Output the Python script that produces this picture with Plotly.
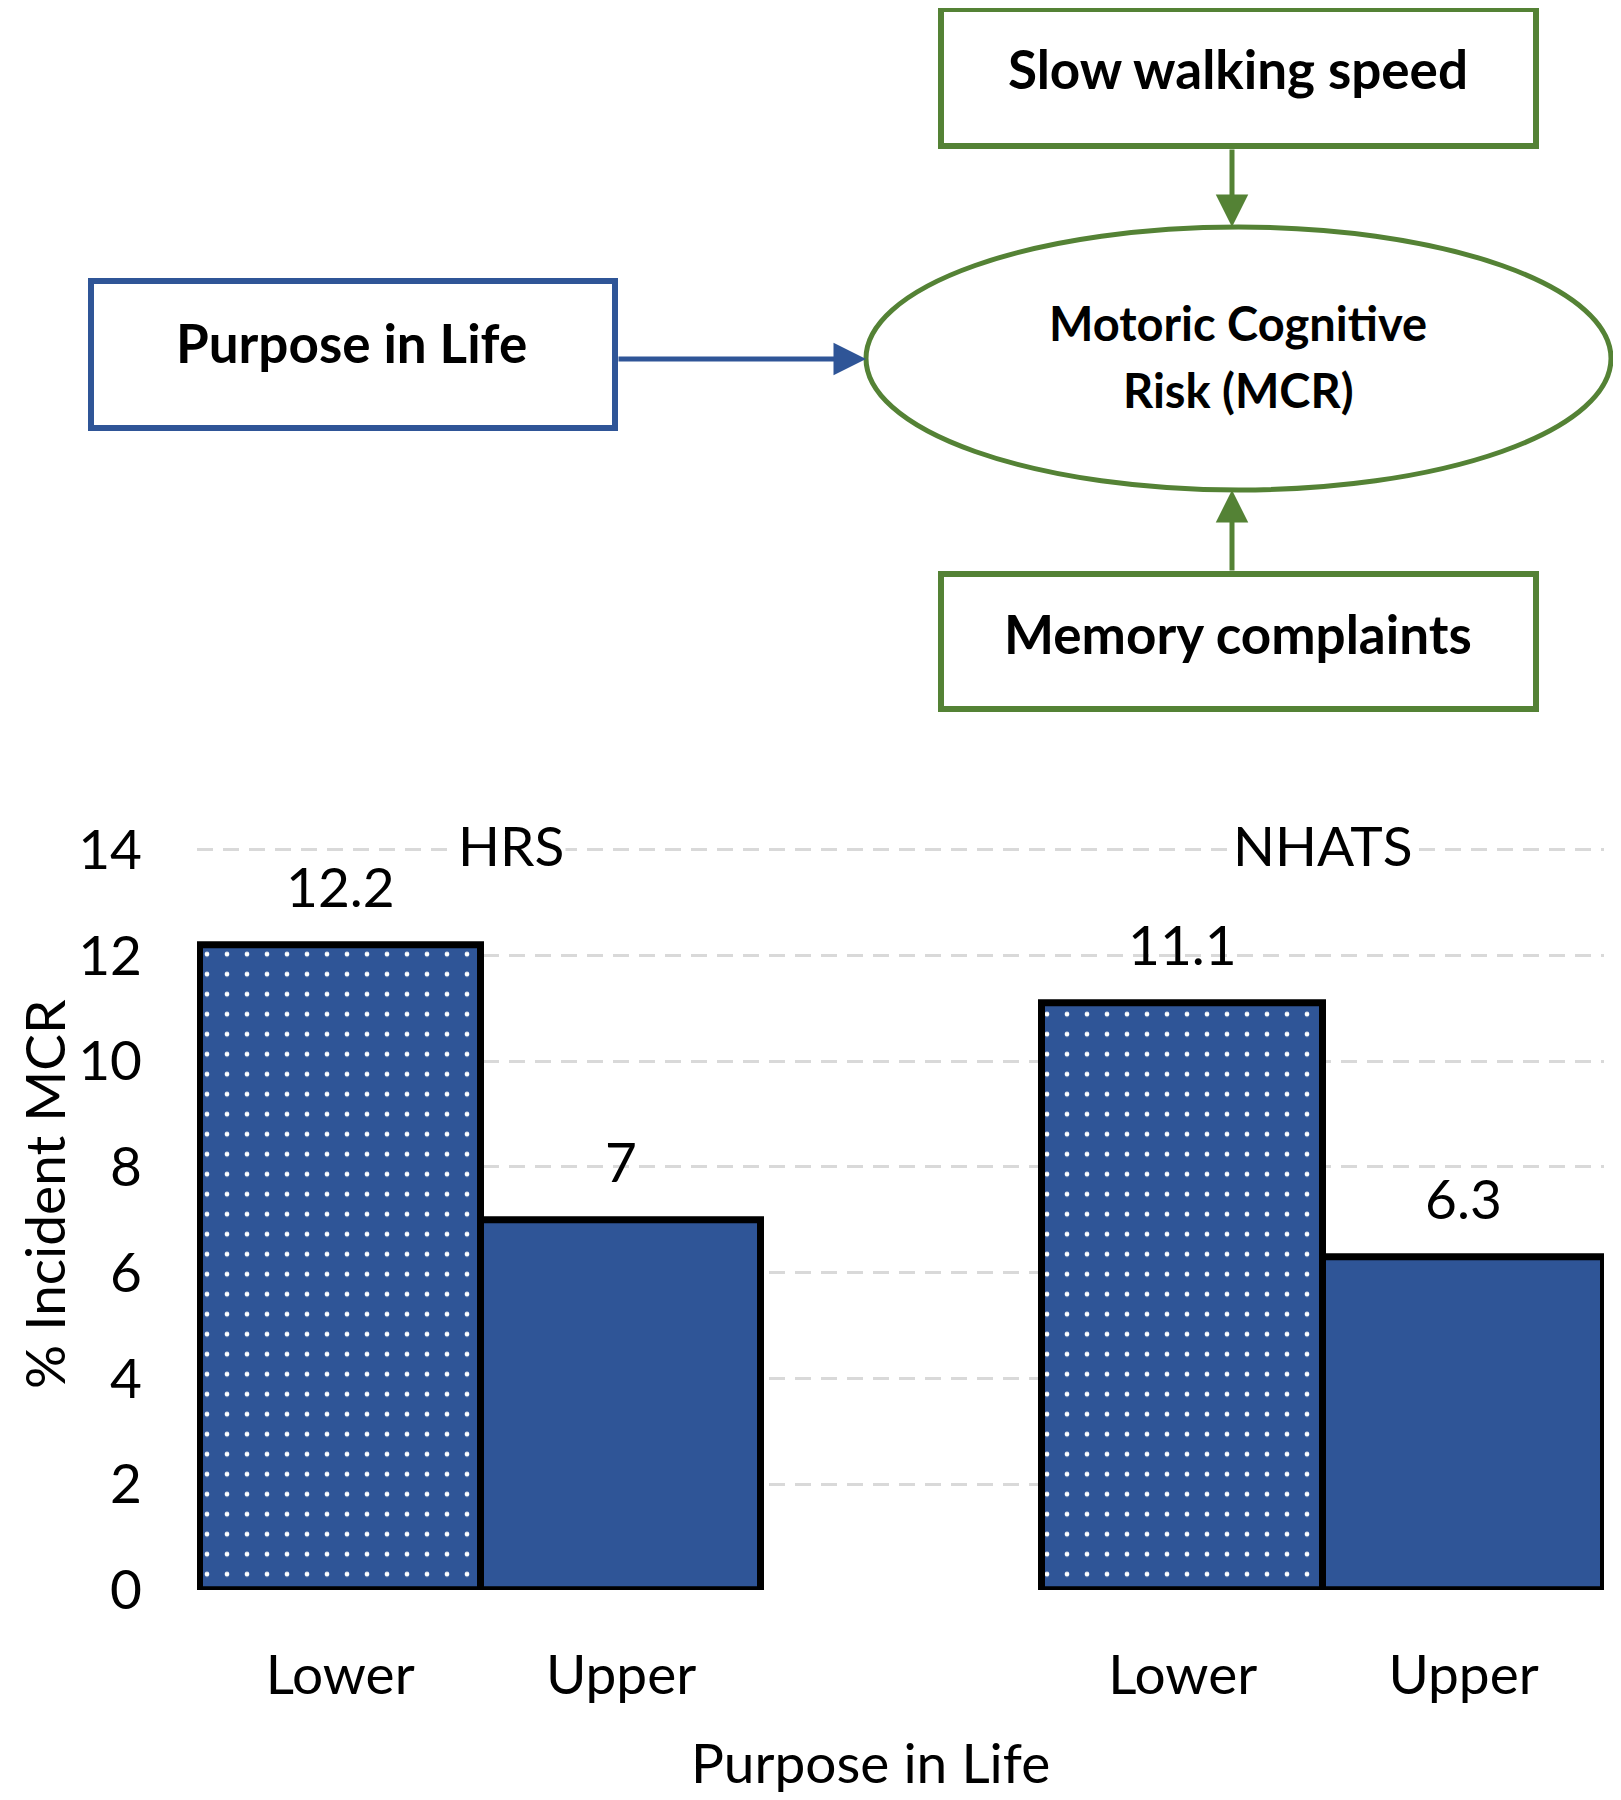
import plotly.graph_objects as go

# ---------------- data ----------------
groups = ["HRS", "NHATS"]
levels = ["Lower", "Upper"]
hrs_values = [12.2, 7]
nhats_values = [11.1, 6.3]
y_ticks = [0, 2, 4, 6, 8, 10, 12, 14]
y_title = "% Incident MCR"
x_title = "Purpose in Life"

diagram_exposure = "Purpose in Life"
diagram_outcome = ["Motoric Cognitive", "Risk (MCR)"]
diagram_top = "Slow walking speed"
diagram_bottom = "Memory complaints"

# ---------------- style ----------------
W, H = 1621, 1800
OFF = 8  # page body margin
BLUE = "#2F5597"
GREEN = "#548235"
GRID = "#D9D9D9"
FONT = "Lato"
TXT = 55
BOLD_TXT = 53

def px(x):
    return (x - OFF) / W

def py(y):
    return 1 - (y - OFF) / H

values_by_group = [hrs_values, nhats_values]

fig = go.Figure()

for li, lvl in enumerate(levels):
    xs = [gi * 3 + li for gi in range(len(groups))]
    ys = [values_by_group[gi][li] for gi in range(len(groups))]
    marker = dict(color=BLUE, line=dict(color="black", width=7))
    if li == 0:
        marker["pattern"] = dict(shape=".", fgcolor="white", bgcolor=BLUE,
                                 size=20, solidity=0.045, fgopacity=1,
                                 fillmode="replace")
    fig.add_trace(go.Bar(x=xs, y=ys, width=1, name=lvl, marker=marker,
                         showlegend=False, hoverinfo="skip"))

tickvals, ticktext = [], []
for gi in range(len(groups)):
    for li, lvl in enumerate(levels):
        tickvals.append(gi * 3 + li)
        ticktext.append(lvl)

def ann(**kw):
    d = dict(showarrow=False, xanchor="center", yanchor="middle")
    d.update(kw)
    return d

annotations = []
for gi in range(len(groups)):
    for li in range(len(levels)):
        v = values_by_group[gi][li]
        annotations.append(ann(x=gi * 3 + li, y=v, xref="x", yref="y",
                               text=f"{v:g}", yshift=59,
                               font=dict(family=FONT, size=TXT, color="black")))
for gi, g in enumerate(groups):
    annotations.append(ann(x=gi * 3 + 0.5, y=y_ticks[-1], xref="x", yref="y",
                           text=g, bgcolor="white",
                           yshift=5, xshift=(30 if gi == 0 else 0),
                           font=dict(family=FONT, size=TXT, color="black")))
annotations.append(ann(x=px(44), y=py(1194), xref="paper", yref="paper",
                       text=y_title, textangle=-90, borderpad=0,
                       font=dict(family=FONT, size=TXT, color="black")))
annotations.append(ann(x=px(870), y=py(1762), xref="paper", yref="paper",
                       text=x_title,
                       font=dict(family=FONT, size=TXT, color="black")))

bold = dict(family=FONT, size=BOLD_TXT, color="black", weight="bold")
bold_s = dict(family=FONT, size=47, color="black", weight="bold")
annotations += [
    ann(x=px(1238), y=py(69), xref="paper", yref="paper", text=diagram_top, font=bold),
    ann(x=px(351), y=py(342), xref="paper", yref="paper", text=diagram_exposure, font=bold),
    ann(x=px(1238), y=py(323), xref="paper", yref="paper", text=diagram_outcome[0], font=bold_s),
    ann(x=px(1238), y=py(390), xref="paper", yref="paper", text=diagram_outcome[1], font=bold_s),
    ann(x=px(1238), y=py(634), xref="paper", yref="paper", text=diagram_bottom, font=bold),
]
arrow_common = dict(xref="paper", yref="paper", text="", showarrow=True,
                    arrowhead=2, arrowsize=1.3, arrowwidth=5)
annotations += [
    dict(x=px(1232), y=py(227), ax=0, ay=-79, arrowcolor=GREEN, **arrow_common),
    dict(x=px(1232), y=py(490), ax=0, ay=82, arrowcolor=GREEN, **arrow_common),
    dict(x=px(866), y=py(359), ax=-249, ay=0, arrowcolor=BLUE, **arrow_common),
]

shapes = [
    dict(type="rect", xref="paper", yref="paper", x0=px(941), x1=px(1536),
         y0=py(146), y1=py(9), line=dict(color=GREEN, width=6)),
    dict(type="rect", xref="paper", yref="paper", x0=px(941), x1=px(1536),
         y0=py(709), y1=py(574), line=dict(color=GREEN, width=6)),
    dict(type="rect", xref="paper", yref="paper", x0=px(91), x1=px(615),
         y0=py(428), y1=py(281), line=dict(color=BLUE, width=6)),
    dict(type="circle", xref="paper", yref="paper", x0=px(866), x1=px(1611),
         y0=py(490), y1=py(227), line=dict(color=GREEN, width=5)),
]
for gi in range(len(groups)):
    shapes.append(dict(type="line", xref="x", yref="y", x0=gi * 3 - 0.5,
                       x1=gi * 3 + len(levels) - 0.5, y0=0, y1=0, layer="below",
                       line=dict(color=GRID, width=3)))

Y_TOP = 14.1
y0_px, y14_px = 1590, 849.5
ytop_px = y0_px - (y0_px - y14_px) * Y_TOP / 14

fig.update_layout(
    width=W, height=H,
    margin=dict(l=0, r=0, t=0, b=0),
    paper_bgcolor="white", plot_bgcolor="white",
    bargap=0,
    annotations=annotations,
    shapes=shapes,
    font=dict(family=FONT, color="black"),
    xaxis=dict(domain=[px(197), px(1604)], range=[-0.51, 4.5],
               tickvals=tickvals, ticktext=ticktext, showgrid=False,
               zeroline=False, showline=False, ticks="",
               tickfont=dict(family=FONT, size=TXT, color="black"),
               ticklabelstandoff=48, automargin=False, fixedrange=True),
    yaxis=dict(domain=[py(y0_px), py(ytop_px)], range=[0, Y_TOP],
               tickvals=y_ticks, showgrid=True, gridcolor=GRID, gridwidth=3,
               griddash="16px,10px", zeroline=False, showline=False, ticks="",
               tickfont=dict(family=FONT, size=TXT, color="black"),
               ticklabelstandoff=54, automargin=False, fixedrange=True),
)

fig.write_html("out.html")
